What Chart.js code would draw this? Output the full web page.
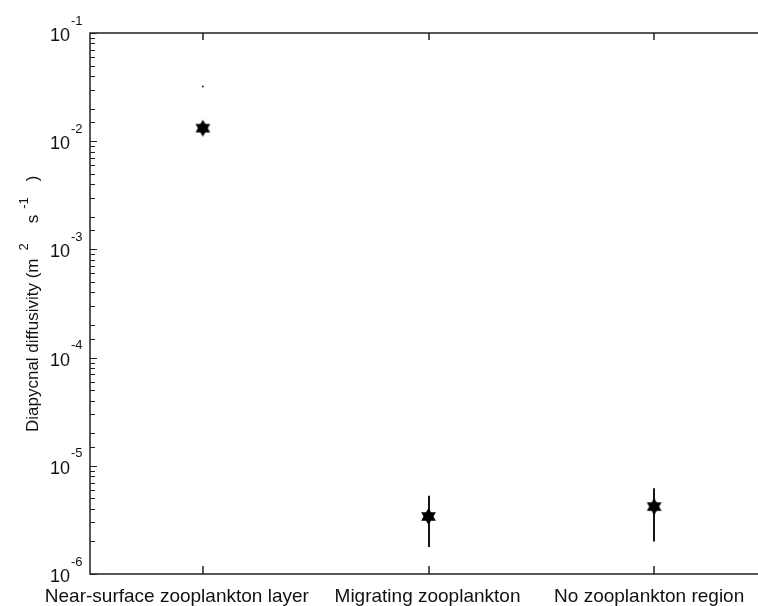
<!DOCTYPE html>
<html>
<head>
<meta charset="utf-8">
<script src="https://cdn.jsdelivr.net/npm/chart.js@4.4.1/dist/chart.umd.min.js"></script>
<style>
  html, body { margin: 0; padding: 0; background: #fff; overflow: hidden; }
  #wrap { width: 758px; height: 606px; overflow: hidden; }
</style>
</head>
<body>
<div id="wrap"><canvas id="diffChart" width="780" height="606"></canvas></div>
<script>
// Diapycnal diffusivity per region (m^2 s^-1), with error bar limits
const regions = ['Near-surface zooplankton layer', 'Migrating zooplankton', 'No zooplankton region'];
const diffusivity = [1.32e-2, 3.4e-6, 4.2e-6];
const errLow = [1.2e-2, 1.78e-6, 2.0e-6];
const errHigh = [1.45e-2, 5.3e-6, 6.2e-6];
const strayValue = [3.2e-2];           // lone dot above the first region
const decades = [-6, -5, -4, -3, -2, -1];

const FONT = '"Liberation Sans", Arial, Helvetica, sans-serif';
const INK = '#111';

// filled six-pointed star used as the point marker
function makeHexagram(r) {
    const size = Math.ceil(r * 2) + 2;
    const c = document.createElement('canvas');
    c.width = c.height = size;
    const g = c.getContext('2d');
    g.translate(size / 2, size / 2);
    g.fillStyle = '#000';
    [-Math.PI / 2, Math.PI / 2].forEach(function (start) {
        g.beginPath();
        for (let k = 0; k < 3; k++) {
            const a = start + k * 2 * Math.PI / 3;
            g.lineTo(r * Math.cos(a), r * Math.sin(a));
        }
        g.closePath();
        g.fill();
    });
    return c;
}

// error bars, axis box, inward ticks and all the text
const axesPlugin = {
    id: 'axesDecor',
    beforeDatasetsDraw(chart) {
        const ctx = chart.ctx;
        const xs = chart.scales.x, ys = chart.scales.y;
        ctx.save();
        ctx.strokeStyle = '#151515';
        ctx.lineWidth = 2;
        regions.forEach(function (r, i) {
            const x = Math.round(xs.getPixelForValue(i + 0.5));
            ctx.beginPath();
            ctx.moveTo(x, ys.getPixelForValue(errLow[i]));
            ctx.lineTo(x, ys.getPixelForValue(errHigh[i]));
            ctx.stroke();
        });
        ctx.restore();
    },
    afterDraw(chart) {
        const ctx = chart.ctx;
        const area = chart.chartArea;
        const xs = chart.scales.x, ys = chart.scales.y;
        ctx.save();

        // box
        ctx.strokeStyle = '#222';
        ctx.lineWidth = 1.5;
        ctx.strokeRect(area.left, area.top, area.right - area.left, area.bottom - area.top);

        // y ticks, pointing in
        ctx.lineWidth = 1;
        ys.ticks.forEach(function (t) {
            const y = Math.round(ys.getPixelForValue(t.value)) + 0.5;
            const lg = Math.log10(t.value);
            const len = Math.abs(lg - Math.round(lg)) < 1e-6 ? 7 : 5;
            ctx.beginPath();
            ctx.moveTo(area.left, y);
            ctx.lineTo(area.left + len, y);
            ctx.stroke();
        });

        // x ticks on bottom and top
        ctx.lineWidth = 1.5;
        regions.forEach(function (r, i) {
            const x = Math.round(xs.getPixelForValue(i + 0.5));
            ctx.beginPath();
            ctx.moveTo(x, area.bottom);
            ctx.lineTo(x, area.bottom - 8);
            ctx.moveTo(x, area.top);
            ctx.lineTo(x, area.top + 7);
            ctx.stroke();
        });

        // y tick labels as 10 with a raised exponent
        ctx.fillStyle = INK;
        decades.forEach(function (e) {
            const y = ys.getPixelForValue(Math.pow(10, e));
            ctx.font = '18px ' + FONT;
            ctx.textAlign = 'right';
            ctx.textBaseline = 'middle';
            ctx.fillText('10', 70, y + 3);
            ctx.font = '13px ' + FONT;
            ctx.textAlign = 'left';
            ctx.fillText(String(e), 71, y - 12);
        });

        // category labels
        const labelNudge = [-26, -1, -5];
        ctx.font = '19px ' + FONT;
        ctx.textAlign = 'center';
        ctx.textBaseline = 'alphabetic';
        regions.forEach(function (r, i) {
            ctx.fillText(r, xs.getPixelForValue(i + 0.5) + labelNudge[i], 602);
        });

        // rotated y title with superscripts (tex-style spacing)
        const parts = [
            { t: 'Diapycnal diffusivity (m', sup: false, gap: 8 },
            { t: '2', sup: true, gap: 20 },
            { t: 's', sup: false, gap: 6 },
            { t: '-1', sup: true, gap: 16 },
            { t: ')', sup: false, gap: 0 }
        ];
        ctx.translate(33, 432);
        ctx.rotate(-Math.PI / 2);
        ctx.textAlign = 'left';
        ctx.textBaseline = 'middle';
        let pos = 0;
        parts.forEach(function (p) {
            ctx.font = (p.sup ? '13px ' : '17px ') + FONT;
            ctx.fillText(p.t, pos, p.sup ? -9 : 0);
            pos += ctx.measureText(p.t).width + p.gap;
        });
        ctx.restore();
    }
};

const ctx = document.getElementById('diffChart').getContext('2d');
const diffChart = new Chart(ctx, {
    type: 'scatter',
    data: {
        datasets: [{
            label: 'Diapycnal diffusivity',
            data: regions.map(function (r, i) { return { x: i + 0.5, y: diffusivity[i] }; }),
            pointStyle: makeHexagram(8.5),
            pointRadius: 8
        }, {
            label: 'stray',
            data: strayValue.map(function (v, i) { return { x: i + 0.5, y: v }; }),
            pointStyle: 'circle',
            pointRadius: 1,
            backgroundColor: '#222',
            borderWidth: 0
        }]
    },
    options: {
        responsive: false,
        animation: false,
        devicePixelRatio: 1,
        layout: { padding: { left: 0, top: 33, right: 13, bottom: 0 } },
        plugins: {
            legend: { display: false },
            tooltip: { enabled: false }
        },
        scales: {
            x: {
                type: 'linear',
                min: 0,
                max: 3,
                grid: { display: false },
                border: { display: false },
                ticks: { display: false },
                afterFit: function (scale) { scale.height = 32; }
            },
            y: {
                type: 'logarithmic',
                min: 1e-6,
                max: 1e-1,
                grid: { display: false },
                border: { display: false },
                ticks: { display: false },
                afterFit: function (scale) { scale.width = 90; }
            }
        }
    },
    plugins: [axesPlugin]
});
</script>
</body>
</html>
